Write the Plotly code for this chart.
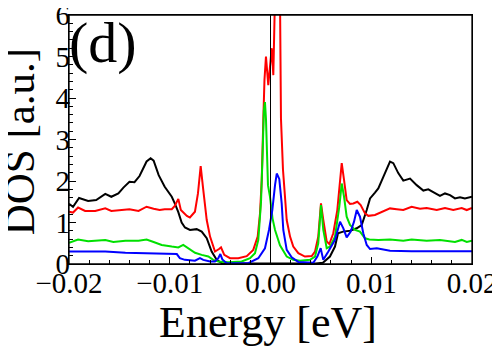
import plotly.graph_objects as go

# Energy grids (eV) and DOS values, one pair per curve
black_e = [-0.0200, -0.0196, -0.0190, -0.0181, -0.0173, -0.0164, -0.0158, -0.0151, -0.0146, -0.0140,
           -0.0135, -0.0130, -0.0123, -0.0119, -0.0116, -0.0111, -0.0105, -0.0098, -0.00948, -0.00915,
           -0.00882, -0.00849, -0.00799, -0.00733, -0.00683, -0.00633, -0.00584, -0.00534, -0.00484, -0.0040,
           0.0, 0.0045, 0.0052, 0.0059, 0.0064, 0.0067, 0.0072, 0.0079, 0.00856, 0.00905,
           0.00955, 0.00988, 0.01037, 0.0107, 0.0112, 0.01186, 0.01219, 0.01268, 0.01318, 0.01385,
           0.01451, 0.01517, 0.01566, 0.01633, 0.01682, 0.01732, 0.01782, 0.01831, 0.01881, 0.0193, 0.0200]
black_dos = [1.45, 1.38, 1.59, 1.52, 1.54, 1.69, 1.62, 1.70, 1.84, 1.98,
             1.97, 2.12, 2.47, 2.55, 2.49, 2.14, 1.86, 1.62, 1.45, 1.25,
             1.00, 0.88, 0.82, 0.84, 0.78, 0.62, 0.30, 0.10, 0.02, 0.01,
             0.01, 0.01, 0.03, 0.18, 0.42, 0.74, 0.78, 0.80, 0.86, 0.94,
             1.30, 1.58, 1.72, 1.82, 2.10, 2.47, 2.43, 2.19, 2.01, 2.06,
             1.90, 1.77, 1.80, 1.70, 1.64, 1.70, 1.66, 1.58, 1.61, 1.58, 1.62]

red_e = [-0.0200, -0.0196, -0.0191, -0.0184, -0.0174, -0.0164, -0.0158, -0.0148, -0.0140, -0.0131,
         -0.0123, -0.0116, -0.0110, -0.0105, -0.0098, -0.0095, -0.00915, -0.0089, -0.0083, -0.0080,
         -0.0075, -0.0072, -0.00693, -0.00667, -0.00633, -0.0060, -0.00551, -0.00511, -0.00491, -0.00459,
         -0.00402, -0.0032, -0.00236, -0.00171, -0.00127, -0.00104, -0.00087, -0.00071, -0.0006, -0.00045,
         -0.00022, 0.00012, 0.00028, 0.00045, 0.0007, 0.00094, 0.00104, 0.00124, 0.00144, 0.00161,
         0.00194, 0.00226, 0.00276, 0.00342, 0.00409, 0.00442, 0.00474, 0.00501, 0.00524, 0.00558,
         0.00584, 0.00623, 0.00663, 0.0069, 0.00707, 0.0073, 0.00756, 0.00789, 0.00822, 0.00862,
         0.00895, 0.00938, 0.00971, 0.01037, 0.0112, 0.01186, 0.01253, 0.01318, 0.01401, 0.01484,
         0.0155, 0.0165, 0.01732, 0.01814, 0.01898, 0.01948, 0.0200]
red_dos = [1.26, 1.24, 1.36, 1.28, 1.28, 1.34, 1.28, 1.30, 1.32, 1.28,
           1.38, 1.33, 1.30, 1.32, 1.32, 1.40, 1.57, 1.30, 1.16, 1.12,
           1.26, 1.70, 2.36, 1.78, 1.06, 0.66, 0.30, 0.36, 0.40, 0.22,
           0.14, 0.14, 0.19, 0.34, 0.66, 1.22, 2.02, 3.50, 4.43, 5.00,
           4.31, 5.20, 4.55, 6.50, 9.00, 6.50, 3.50, 2.27, 1.54, 1.06,
           0.66, 0.42, 0.26, 0.18, 0.19, 0.30, 0.66, 1.46, 1.06, 0.54,
           0.48, 0.74, 1.30, 1.94, 2.43, 2.02, 1.54, 1.45, 1.46, 1.50,
           1.42, 1.22, 1.16, 1.18, 1.26, 1.34, 1.32, 1.30, 1.38, 1.33,
           1.35, 1.30, 1.35, 1.30, 1.35, 1.30, 1.35]

green_e = [-0.0200, -0.0191, -0.0181, -0.0164, -0.0156, -0.0144, -0.0131, -0.0123, -0.0116, -0.0108,
           -0.0098, -0.00915, -0.00866, -0.00816, -0.00749, -0.00683, -0.00617, -0.00568, -0.00518, -0.00419,
           -0.00286, -0.00203, -0.00154, -0.00121, -0.00094, -0.00079, -0.00066, -0.00055, -0.00045, -0.00025,
           -0.00005, 0.0002, 0.00045, 0.00094, 0.00161, 0.00226, 0.00293, 0.00392, 0.00442, 0.00474,
           0.00501, 0.00524, 0.00558, 0.00591, 0.0064, 0.00683, 0.00707, 0.0073, 0.00756, 0.00789,
           0.00839, 0.00888, 0.00938, 0.00981, 0.0107, 0.01186, 0.01318, 0.01401, 0.0155, 0.01682,
           0.01831, 0.01898, 0.01948, 0.0200]
green_dos = [0.51, 0.59, 0.55, 0.58, 0.53, 0.56, 0.56, 0.59, 0.53, 0.46,
             0.42, 0.40, 0.46, 0.38, 0.27, 0.22, 0.18, 0.10, 0.06, 0.04,
             0.06, 0.14, 0.26, 0.58, 1.50, 2.60, 3.70, 3.90, 3.50, 1.90,
             1.62, 1.10, 0.82, 0.45, 0.18, 0.10, 0.08, 0.10, 0.18, 0.50,
             1.42, 0.82, 0.38, 0.42, 0.66, 1.38, 1.94, 1.62, 1.14, 0.94,
             0.82, 0.78, 0.62, 0.59, 0.58, 0.59, 0.56, 0.59, 0.56, 0.58,
             0.53, 0.58, 0.53, 0.56]

blue_e = [-0.0200, -0.0184, -0.0164, -0.0144, -0.0125, -0.0105, -0.0093, -0.0090, -0.0085, -0.0075,
          -0.0070, -0.00667, -0.0060, -0.00551, -0.00518, -0.00498, -0.00478, -0.00435, -0.0030, -0.0022,
          -0.00121, -0.00055, -0.00015, 0.00018, 0.00045, 0.00062, 0.00087, 0.00111, 0.00127, 0.00161,
          0.0021, 0.00276, 0.00425, 0.00465, 0.00498, 0.00524, 0.00574, 0.0064, 0.0069, 0.00723,
          0.00756, 0.00796, 0.00829, 0.00856, 0.00888, 0.00921, 0.00955, 0.00988, 0.01055, 0.01186,
          0.0140, 0.0200]
blue_dos = [0.30, 0.30, 0.30, 0.27, 0.26, 0.24, 0.24, 0.14, 0.10, 0.08,
            0.14, 0.10, 0.06, 0.06, 0.14, 0.24, 0.11, 0.02, 0.01, 0.02,
            0.14, 0.38, 0.82, 1.30, 1.90, 2.18, 2.05, 1.46, 0.82, 0.34,
            0.16, 0.05, 0.03, 0.18, 0.38, 0.10, 0.30, 0.58, 1.02, 0.86,
            0.64, 0.78, 1.02, 1.30, 1.14, 0.74, 0.46, 0.36, 0.38, 0.32,
            0.31, 0.31]

font = "Liberation Serif, Times New Roman, serif"

fig = go.Figure()

for e, dos, color in [(black_e, black_dos, "black"),
                      (red_e, red_dos, "#ff0000"),
                      (green_e, green_dos, "#00e000"),
                      (blue_e, blue_dos, "#0000ff")]:
    fig.add_trace(go.Scatter(x=e, y=dos, mode="lines",
                             line=dict(color=color, width=2), showlegend=False))

# thin marker line at the Fermi energy
fig.add_vline(x=0, line=dict(color="black", width=1))
# full frame round the plot area
fig.add_shape(type="rect", xref="paper", yref="paper", x0=0, x1=1, y0=0, y1=1,
              line=dict(color="black", width=1.3), layer="above")

fig.update_xaxes(
    range=[-0.02, 0.02], dtick=0.01, tickformat=".2f",
    showgrid=False, zeroline=False, automargin=False,
    showline=True, linecolor="black", linewidth=1.3, mirror=True,
    ticks="inside", ticklen=7, tickcolor="black",
    minor=dict(dtick=0.002, ticks="inside", ticklen=4, tickcolor="black"),
    tickfont=dict(family=font, size=29, color="black"),
    ticklabeloverflow="allow", ticklabelstandoff=-7,
)
fig.update_yaxes(
    range=[0, 6.0001], dtick=1,
    showgrid=False, zeroline=False, automargin=False,
    showline=True, linecolor="black", linewidth=1.3, mirror=True,
    ticks="inside", ticklen=7, tickcolor="black",
    minor=dict(dtick=0.2, ticks="inside", ticklen=4, tickcolor="black"),
    tickfont=dict(family=font, size=29, color="black"),
    ticklabeloverflow="allow", ticklabelstandoff=-8,
)

# the page puts the figure 8px in from the top-left corner, so it is sized to fit
fig.update_layout(
    width=492, height=341,
    margin=dict(l=61, r=28, t=7, b=85),
    plot_bgcolor="white", paper_bgcolor="white",
    annotations=[
        dict(text="(d)", x=-0.005, y=1.028, xref="paper", yref="paper",
             xanchor="left", yanchor="top", showarrow=False,
             font=dict(family=font, size=58, color="black")),
        dict(text="Energy [eV]", x=0.494, y=-0.235, xref="paper", yref="paper",
             xanchor="center", yanchor="middle", showarrow=False,
             font=dict(family=font, size=44, color="black")),
        dict(text="DOS [a.u.]", x=-0.122, y=0.492, xref="paper", yref="paper",
             xanchor="center", yanchor="middle", showarrow=False, textangle=-90,
             font=dict(family=font, size=43, color="black")),
    ],
)

fig.write_html("out.html")
